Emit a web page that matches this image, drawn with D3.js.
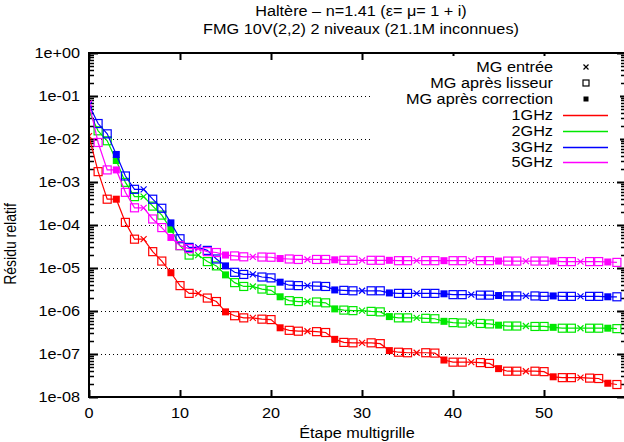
<!DOCTYPE html>
<html>
<head>
<meta charset="utf-8">
<script src="https://cdn.jsdelivr.net/npm/d3@7"></script>
<style>
  body { margin: 0; background: #fff; }
  svg { display: block; font-family: "Liberation Sans", Arial, sans-serif; font-size: 14px; }
</style>
</head>
<body>
<script>
// steps of the multigrid run, one letter per step:
// x = MG entrée, o = après lisseur, f = après correction
var stepKinds = 'xoofooxoofooxoofooxoofooxoofooxoofooxoofooxoofooxoofooxoofo'.split('')

var f1GHz = [
  1.17e-2, 1.74e-3, 3.98e-4, 3.98e-4, 1.15e-4, 4.68e-5, 4.68e-5, 2.40e-5, 1.45e-5, 7.76e-6,
  3.89e-6, 2.57e-6, 2.57e-6, 2.00e-6, 1.66e-6, 9.55e-7, 7.76e-7, 6.92e-7, 6.92e-7, 6.46e-7,
  6.31e-7, 4.07e-7, 3.55e-7, 3.39e-7, 3.39e-7, 3.31e-7, 3.16e-7, 2.19e-7, 1.86e-7, 1.82e-7,
  1.82e-7, 1.82e-7, 1.74e-7, 1.20e-7, 1.10e-7, 1.07e-7, 1.07e-7, 1.07e-7, 1.05e-7, 7.24e-8,
  6.46e-8, 6.46e-8, 6.46e-8, 6.31e-8, 6.03e-8, 4.57e-8, 3.98e-8, 3.98e-8, 3.98e-8, 3.98e-8,
  3.89e-8, 2.95e-8, 2.82e-8, 2.82e-8, 2.82e-8, 2.75e-8, 2.69e-8, 2.09e-8, 1.95e-8
]
var f2GHz = [
  4.37e-2, 1.55e-2, 9.10e-3, 3.16e-3, 9.80e-4, 4.57e-4, 4.57e-4, 2.75e-4, 1.70e-4, 7.94e-5,
  3.31e-5, 2.00e-5, 2.00e-5, 1.41e-5, 1.12e-5, 6.92e-6, 4.57e-6, 3.72e-6, 3.72e-6, 3.24e-6,
  3.02e-6, 2.14e-6, 1.74e-6, 1.66e-6, 1.66e-6, 1.62e-6, 1.55e-6, 1.12e-6, 1.05e-6, 1.02e-6,
  1.02e-6, 9.80e-7, 9.55e-7, 7.41e-7, 6.92e-7, 6.92e-7, 6.92e-7, 6.76e-7, 6.61e-7, 5.75e-7,
  5.37e-7, 5.25e-7, 5.25e-7, 5.13e-7, 5.01e-7, 4.68e-7, 4.47e-7, 4.47e-7, 4.47e-7, 4.37e-7,
  4.37e-7, 4.17e-7, 3.98e-7, 3.98e-7, 3.98e-7, 3.98e-7, 3.98e-7, 3.98e-7, 3.89e-7
]
var f3GHz = [
  6.17e-2, 2.29e-2, 1.32e-2, 4.37e-3, 1.38e-3, 6.76e-4, 6.76e-4, 3.98e-4, 2.45e-4, 1.12e-4,
  4.79e-5, 3.02e-5, 3.02e-5, 2.57e-5, 1.62e-5, 1.12e-5, 7.94e-6, 7.08e-6, 7.08e-6, 6.17e-6,
  5.89e-6, 4.68e-6, 3.98e-6, 3.89e-6, 3.89e-6, 3.80e-6, 3.72e-6, 3.09e-6, 3.02e-6, 2.95e-6,
  2.95e-6, 2.95e-6, 2.95e-6, 2.63e-6, 2.57e-6, 2.57e-6, 2.57e-6, 2.57e-6, 2.57e-6, 2.51e-6,
  2.40e-6, 2.40e-6, 2.40e-6, 2.34e-6, 2.34e-6, 2.29e-6, 2.24e-6, 2.24e-6, 2.24e-6, 2.24e-6,
  2.19e-6, 2.24e-6, 2.19e-6, 2.19e-6, 2.19e-6, 2.19e-6, 2.19e-6, 2.14e-6, 2.14e-6
]
var f5GHz = [
  6.76e-2, 8.30e-3, 1.91e-3, 1.91e-3, 5.75e-4, 2.51e-4, 2.51e-4, 1.38e-4, 8.70e-5, 5.13e-5,
  3.31e-5, 2.82e-5, 2.82e-5, 2.40e-5, 2.29e-5, 2.00e-5, 1.91e-5, 1.82e-5, 1.82e-5, 1.80e-5,
  1.78e-5, 1.66e-5, 1.62e-5, 1.58e-5, 1.58e-5, 1.58e-5, 1.58e-5, 1.55e-5, 1.51e-5, 1.51e-5,
  1.51e-5, 1.51e-5, 1.51e-5, 1.51e-5, 1.48e-5, 1.48e-5, 1.48e-5, 1.48e-5, 1.48e-5, 1.48e-5,
  1.48e-5, 1.48e-5, 1.48e-5, 1.48e-5, 1.48e-5, 1.45e-5, 1.45e-5, 1.45e-5, 1.45e-5, 1.45e-5,
  1.45e-5, 1.45e-5, 1.41e-5, 1.41e-5, 1.41e-5, 1.41e-5, 1.41e-5, 1.38e-5, 1.35e-5
]

var seriesNames = ['1GHz', '2GHz', '3GHz', '5GHz']
var seriesValues = [f1GHz, f2GHz, f3GHz, f5GHz]
var seriesColors = ['#ff0000', '#00e800', '#0000ff', '#ff00ff']
var kindNames = ['MG entrée', 'MG après lisseur', 'MG après correction']
var xTicks = [0, 10, 20, 30, 40, 50]
var yTicks = [1e0, 1e-1, 1e-2, 1e-3, 1e-4, 1e-5, 1e-6, 1e-7, 1e-8]
var yTickLabels = ['1e+00', '1e-01', '1e-02', '1e-03', '1e-04', '1e-05', '1e-06', '1e-07', '1e-08']

var width = 624
var height = 442
var plotLeft = 89
var plotTop = 53
var plotBottom = 397
var plotRight = 626
var stretch = 1.16 // the reference glyphs are wider than they are tall

var x = d3.scaleLinear().domain([0, 59]).range([plotLeft, plotRight])
var y = d3.scaleLog().domain([1e-8, 1]).range([plotBottom, plotTop])

var svg = d3.select('body').append('svg')
  .attr('width', width)
  .attr('height', height)

svg.append('defs').append('clipPath')
  .attr('id', 'plotClip')
  .append('rect')
  .attr('x', plotLeft)
  .attr('y', plotTop)
  .attr('width', plotRight - plotLeft)
  .attr('height', plotBottom - plotTop)

function label (parent, px, py, str, anchor) {
  return parent.append('text')
    .attr('transform', 'translate(' + px + ',' + py + ') scale(' + stretch + ',1)')
    .attr('text-anchor', anchor)
    .text(str)
}

// titles
label(svg, 361, 16, 'Haltère – n=1.41 (ε= μ= 1 + i)', 'middle')
label(svg, 361, 34, 'FMG 10V(2,2) 2 niveaux (21.1M inconnues)', 'middle')

// horizontal dotted grid
svg.append('g').selectAll('line')
  .data(yTicks.slice(1, -1))
  .join('line')
  .attr('x1', plotLeft).attr('x2', plotRight)
  .attr('y1', function (d) { return Math.round(y(d)) + 0.5 })
  .attr('y2', function (d) { return Math.round(y(d)) + 0.5 })
  .style('stroke', '#000')
  .style('stroke-width', 1)
  .style('stroke-dasharray', '1,3')

// minor ticks of the log axis
var minorTicks = []
for (var e = -8; e < 0; e++) {
  for (var m = 2; m <= 9; m++) minorTicks.push(m * Math.pow(10, e))
}

var axes = svg.append('g').style('stroke', '#000')
axes.selectAll('.ymin').data(minorTicks).join('path')
  .attr('class', 'ymin')
  .attr('d', function (d) {
    var py = Math.round(y(d)) + 0.5
    return 'M' + plotLeft + ',' + py + 'h5M' + (plotRight - 5) + ',' + py + 'h5'
  })
  .style('stroke-width', 1.5)
axes.selectAll('.ymaj').data(yTicks).join('path')
  .attr('class', 'ymaj')
  .attr('d', function (d) {
    var py = Math.round(y(d)) + 0.5
    return 'M' + plotLeft + ',' + py + 'h9M' + (plotRight - 9) + ',' + py + 'h9'
  })
  .style('stroke-width', 2)
axes.selectAll('.xmaj').data(xTicks).join('path')
  .attr('class', 'xmaj')
  .attr('d', function (d) {
    var px = Math.round(x(d)) + 0.5
    return 'M' + px + ',' + plotBottom + 'v-7M' + px + ',' + plotTop + 'v7'
  })
  .style('stroke-width', 2)

// tick labels
yTicks.forEach(function (d, i) {
  label(svg, 80, y(d) + 5, yTickLabels[i], 'end')
})
xTicks.forEach(function (d) {
  label(svg, x(d), 418, d, 'middle')
})

label(svg, 357, 438, 'Étape multigrille', 'middle')
svg.append('text')
  .attr('transform', 'translate(16,244) rotate(-90) scale(1,' + stretch + ')')
  .attr('text-anchor', 'middle')
  .text('Résidu relatif')

// data
var plot = svg.append('g').attr('clip-path', 'url(#plotClip)')
var line = d3.line()
  .x(function (d, i) { return x(i) })
  .y(function (d) { return y(d) })

function drawMarker (g, kind, color, s) {
  if (kind === 'x') {
    g.append('path')
      .attr('d', 'M' + (-s) + ',' + (-s) + 'L' + s + ',' + s + 'M' + (-s) + ',' + s + 'L' + s + ',' + (-s))
      .style('stroke', color).style('fill', 'none').style('stroke-width', 1.2)
  } else if (kind === 'o') {
    g.append('rect')
      .attr('x', -s - 0.5).attr('y', -s - 0.5)
      .attr('width', 2 * s + 1).attr('height', 2 * s + 1)
      .style('stroke', color).style('fill', 'none').style('stroke-width', 1.2)
  } else {
    g.append('rect')
      .attr('x', -s).attr('y', -s)
      .attr('width', 2 * s).attr('height', 2 * s)
      .style('fill', color)
  }
}

seriesValues.forEach(function (values, si) {
  var color = seriesColors[si]
  plot.append('path')
    .datum(values)
    .attr('d', line)
    .style('fill', 'none')
    .style('stroke', color)
    .style('stroke-width', 1.2)
  values.forEach(function (v, i) {
    var g = plot.append('g')
      .attr('transform', 'translate(' + x(i) + ',' + y(v) + ')')
    drawMarker(g, stepKinds[i], color, stepKinds[i] === 'x' ? 3 : 3.5)
  })
})

// frame
svg.append('rect')
  .attr('x', plotLeft).attr('y', plotTop)
  .attr('width', plotRight - plotLeft)
  .attr('height', plotBottom - plotTop)
  .style('fill', 'none')
  .style('stroke', '#000')
  .style('stroke-width', 2)

// key
var key = svg.append('g')
key.append('rect')
  .attr('x', 370).attr('y', 56)
  .attr('width', 250).attr('height', 116)
  .style('fill', '#fff')
var rowY = [67, 83, 99, 115, 131, 147, 162]
var keyLabels = kindNames.concat(seriesNames)
keyLabels.forEach(function (text, i) {
  label(key, 553, rowY[i] + 5, text, 'end')
  if (i < 3) {
    var g = key.append('g').attr('transform', 'translate(586,' + rowY[i] + ')')
    drawMarker(g, ['x', 'o', 'f'][i], '#000', 2.5)
  } else {
    key.append('line')
      .attr('x1', 563).attr('x2', 608)
      .attr('y1', rowY[i] + 0.5).attr('y2', rowY[i] + 0.5)
      .style('stroke', seriesColors[i - 3])
      .style('stroke-width', 1.5)
  }
})
</script>
</body>
</html>
